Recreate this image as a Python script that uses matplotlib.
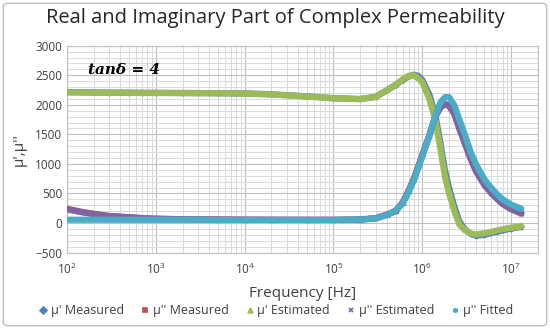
import matplotlib
matplotlib.use("Agg")
import matplotlib.pyplot as plt
from matplotlib.lines import Line2D
from matplotlib.patches import FancyBboxPatch
from matplotlib.ticker import FixedLocator, MultipleLocator, LogLocator, NullFormatter

# frequencies [Hz]
freq = [100, 150, 200, 300, 500, 700, 1e3, 2e3, 5e3, 1e4, 2e4, 5e4, 1e5, 2e5, 3e5, 4e5,
        5e5, 6e5, 7e5, 8e5, 9e5, 1e6, 1.2e6, 1.4e6, 1.6e6, 1.8e6, 2e6, 2.3e6, 2.6e6,
        3e6, 3.5e6, 4e6, 5e6, 6e6, 7e6, 8e6, 1e7, 1.3e7]

mu1_meas = [2215, 2213, 2210, 2207, 2205, 2203, 2202, 2200, 2197, 2192, 2178, 2143, 2112,
            2098, 2135, 2245, 2335, 2420, 2480, 2510, 2490, 2420, 2170, 1830, 1350, 880,
            590, 270, 30, -105, -185, -215, -200, -170, -145, -125, -95, -65]
mu2_meas = [240, 185, 155, 118, 97, 82, 72, 63, 58, 55, 53, 52, 52, 58, 80, 140,
            205, 345, 545, 745, 955, 1150, 1480, 1800, 1965, 2015, 1990, 1850, 1620,
            1370, 1100, 900, 660, 520, 420, 340, 245, 170]
mu1_est = [2210, 2210, 2208, 2205, 2203, 2200, 2200, 2198, 2195, 2190, 2175, 2140, 2110,
           2095, 2140, 2250, 2340, 2430, 2490, 2500, 2450, 2380, 2100, 1745, 1250, 780,
           500, 200, -20, -120, -175, -195, -175, -150, -125, -105, -80, -55]
mu2_est = [230, 180, 150, 115, 95, 80, 70, 62, 58, 55, 53, 52, 52, 58, 80, 140,
           200, 340, 540, 740, 950, 1150, 1480, 1800, 1960, 2010, 1980, 1840, 1600,
           1350, 1080, 880, 640, 500, 400, 320, 230, 160]
mu2_fit = [55, 55, 55, 55, 54, 54, 54, 54, 53, 53, 53, 52, 52, 58, 78, 135,
           210, 330, 520, 720, 930, 1130, 1480, 1820, 2040, 2130, 2130, 1990, 1760,
           1500, 1200, 1000, 740, 590, 480, 400, 310, 240]

labels = ["\u03bc' Measured", "\u03bc'' Measured", "\u03bc' Estimated", "\u03bc'' Estimated", "\u03bc'' Fitted"]
colors = ["#4F81BD", "#C0504D", "#9BBB59", "#8064A2", "#4BACC6"]
markers = ["D", "s", "^", "x", (6, 2, 0)]
series = [mu1_meas, mu2_meas, mu1_est, mu2_est, mu2_fit]

plt.rcParams['font.family'] = ['Open Sans', 'DejaVu Sans']

fig = plt.figure(figsize=(5.5, 3.29), dpi=100)
ax = fig.add_axes([0.1218, 0.2325, 0.978 - 0.1218, 0.861 - 0.2325])

for y, c, m in zip(series, colors, markers):
    ax.plot(freq, y, color=c, lw=4.5, solid_capstyle='round', zorder=3)
    ax.plot(freq, y, color=c, lw=0, marker=m, ms=2.5, mew=1.0, zorder=3)

ax.set_xscale('log')
ax.set_xlim(100, 2e7)
ax.set_ylim(-500, 3000)
ax.yaxis.set_major_locator(MultipleLocator(500))
ax.yaxis.set_minor_locator(MultipleLocator(100))
ax.xaxis.set_major_locator(FixedLocator([1e2, 1e3, 1e4, 1e5, 1e6, 1e7]))
ax.xaxis.set_minor_locator(LogLocator(base=10, subs=range(2, 10)))
ax.xaxis.set_minor_formatter(NullFormatter())
ax.grid(True, which='major', color='#BFBFBF', lw=0.8, zorder=0)
ax.grid(True, which='minor', color='#D9D9D9', lw=0.7, zorder=0)
ax.tick_params(which='both', length=0, labelsize=8.5, colors='#404040')
ax.tick_params(axis='x', pad=7)
for s in ax.spines.values():
    s.set_color('#BFBFBF')

ax.set_xlabel('Frequency [Hz]', fontsize=11, color='#404040', labelpad=6)
ax.set_ylabel("\u03bc',\u03bc''", fontsize=11, color='#404040', labelpad=6)
fig.suptitle('Real and Imaginary Part of Complex Permeability', fontsize=14.5, y=0.975, color='#262626')

ax.text(0.045, 0.885, 'tan\u03b4 = 4', transform=ax.transAxes, fontsize=11,
        fontweight='bold', style='italic', family='DejaVu Serif', va='center')

handles = [Line2D([], [], color=c, marker=m, lw=0, ms=3.5, mew=1.2) for c, m in zip(colors, markers)]
fig.legend(handles, labels, loc='center', bbox_to_anchor=(0.5, 0.055), ncol=5, frameon=False,
           fontsize=9, handletextpad=0.1, columnspacing=1.2, handlelength=1.0,
           labelcolor='#404040')

fig.patches.append(FancyBboxPatch((0.006, 0.01), 0.988, 0.98, boxstyle='round,pad=0,rounding_size=0.01',
                                  transform=fig.transFigure, fill=False, ec='#BFBFBF', lw=1))

fig.savefig('out.png', dpi=100)
